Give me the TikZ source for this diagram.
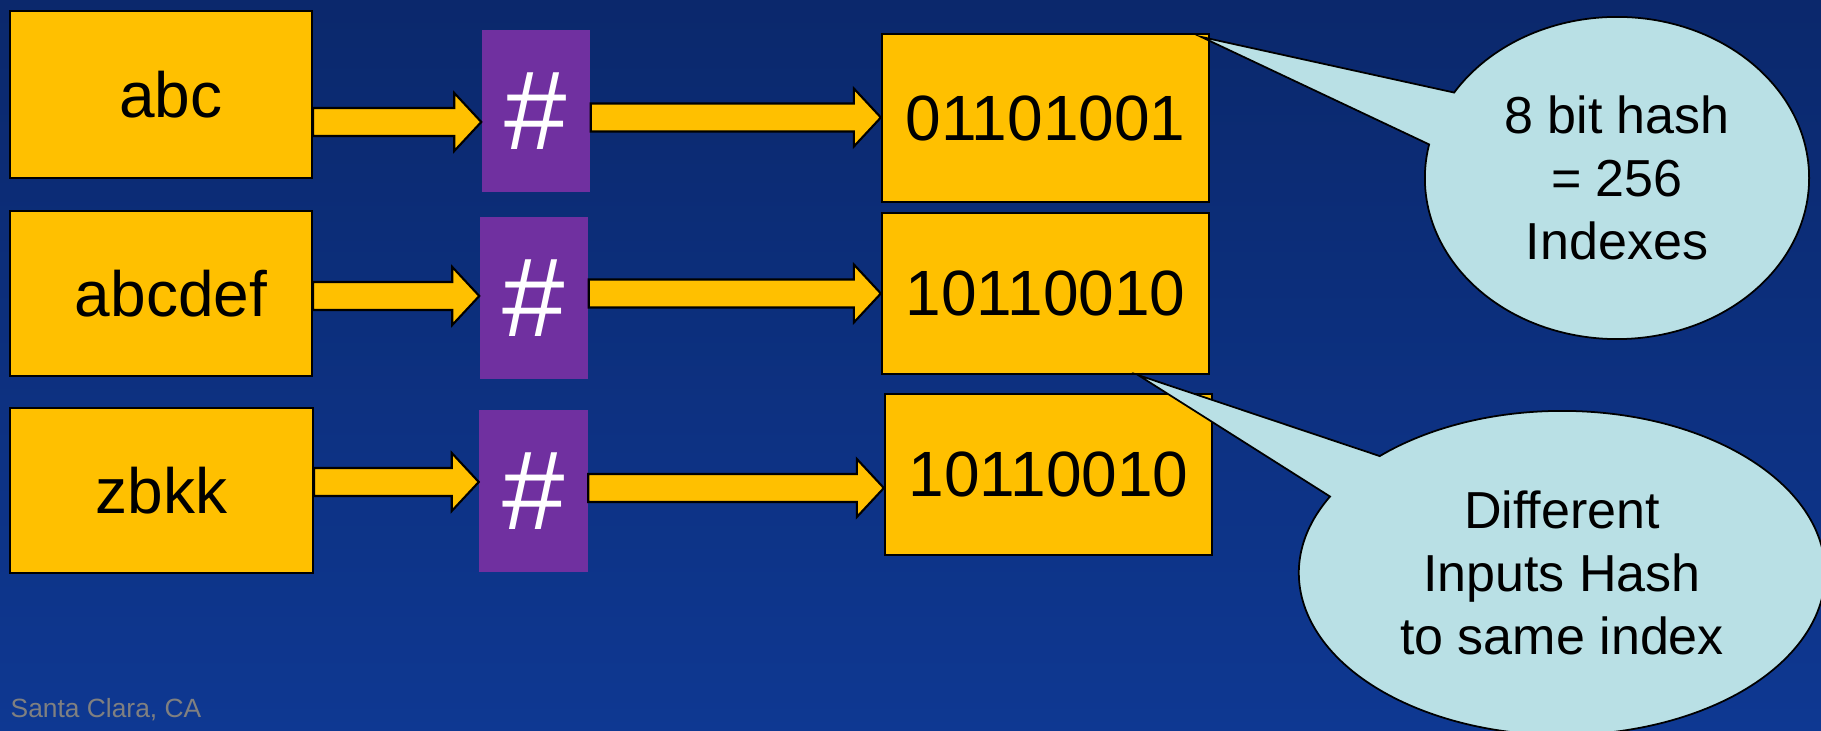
\documentclass[tikz,border=0pt]{standalone}
\usepackage{fontspec}
\setmainfont{Liberation Sans}
\usetikzlibrary{calc,shapes.callouts}

\definecolor{bgtop}{RGB}{11,40,108}
\definecolor{bgbot}{RGB}{14,56,146}
\definecolor{gold}{RGB}{255,192,0}
\definecolor{hashpurple}{RGB}{112,48,160}
\definecolor{bubblefill}{RGB}{185,224,229}

\newcommand{\boxfont}{\fontsize{18.2}{22}\selectfont}
\newcommand{\hashfont}{\fontsize{31.9}{36}\selectfont}
\newcommand{\bubblefont}{\fontsize{14.8}{17.9}\selectfont}

% fat yellow arrow from node #1 to node #2 at height #3
\newcommand{\flow}[3]{%
  \draw[flowarrow] ($(#1.east |- 0,#3)+(0,-14)$) -- ($(#2.west |- 0,#3)+(-27,-14)$)
    -- ++(0,-15) -- (#2.west |- 0,#3) -- ++(-27,29) -- ++(0,-15)
    -- ($(#1.east |- 0,#3)+(0,14)$) -- cycle;}

\begin{document}
\begin{tikzpicture}[x=0.01cm, y=-0.01cm,
  box/.style={draw=black, line width=0.6pt, fill=gold, inner sep=0pt, font=\boxfont},
  hashbox/.style={fill=hashpurple, text=white, minimum width=1.08cm, minimum height=1.62cm,
    inner sep=0pt, font=\hashfont},
  flowarrow/.style={draw=black, line width=0.6pt, fill=gold, line join=miter},
  bubble/.style={ellipse callout, draw=black, line width=0.5pt, fill=bubblefill,
    inner sep=0pt, align=center, font=\bubblefont}]
  \clip (0,0) rectangle (1821,731);
  \shade[top color=bgtop, bottom color=bgbot] (0,0) rectangle (1821,731);

  % inputs
  \node[box, minimum width=3.02cm, minimum height=1.67cm] (in1) at (161,94.5) {\hspace{0.2cm}abc};
  \node[box, minimum width=3.02cm, minimum height=1.65cm] (in2) at (161,293.5) {\hspace{0.2cm}abcdef};
  \node[box, minimum width=3.03cm, minimum height=1.65cm] (in3) at (161.5,490.5) {zbkk};

  % hash function
  \node[hashbox] (h1) at (536,111) {\#};
  \node[hashbox] (h2) at (534,298) {\#};
  \node[hashbox] (h3) at (533.5,491) {\#};

  % resulting indexes
  \node[box, minimum width=3.27cm, minimum height=1.68cm] (out1) at (1045.5,118) {01101001};
  \node[box, minimum width=3.27cm, minimum height=1.61cm] (out2) at (1045.5,293.5) {10110010};
  \node[box, minimum width=3.27cm, minimum height=1.61cm] (out3) at (1048.5,474.5) {10110010};

  \flow{in1}{h1}{122}
  \flow{in2}{h2}{296}
  \flow{in3}{h3}{482}
  \flow{h1}{out1}{117.5}
  \flow{h2}{out2}{293.5}
  \flow{h3}{out3}{488}

  % notes
  \node[bubble, minimum width=3.84cm, minimum height=3.22cm, callout pointer arc=20,
    callout absolute pointer={($(out1.north east)+(-9,4)$)}] (note1) at (1617,178)
    {8 bit hash\\= 256\\Indexes};
  \node[bubble, minimum width=5.26cm, minimum height=3.24cm, callout pointer arc=18,
    callout absolute pointer={($(out2.south east)+(-72,0)$)}] (note2) at (1562,573)
    {Different\\Inputs Hash\\to same index};

  \node[text=gray, font=\fontsize{7.5}{9}\selectfont, anchor=base west, inner sep=0pt]
    (place) at (10,718) {Santa Clara, CA};
\end{tikzpicture}
\end{document}
